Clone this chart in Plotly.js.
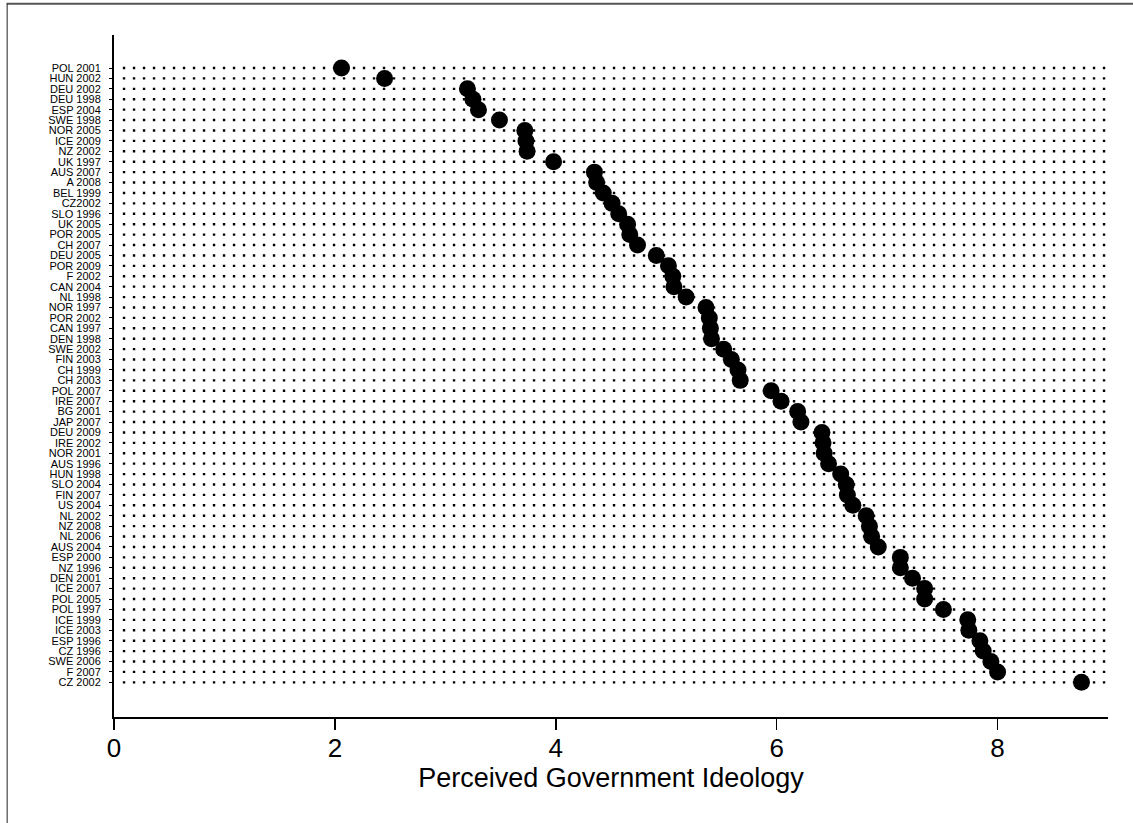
<!DOCTYPE html>
<html>
<head>
<meta charset="utf-8">
<script src="https://cdn.plot.ly/plotly-3.0.1.min.js"></script>
<style>
  html, body { margin: 0; padding: 0; background: #fff; }
  #chart { width: 1133px; height: 823px; }
</style>
</head>
<body>
<div id="chart"></div>
<script>
// Country-election labels (top to bottom)
const labels = [
  "POL 2001", "HUN 2002", "DEU 2002", "DEU 1998", "ESP 2004", "SWE 1998",
  "NOR 2005", "ICE 2009", "NZ 2002", "UK 1997", "AUS 2007", "A 2008",
  "BEL 1999", "CZ2002", "SLO 1996", "UK 2005", "POR 2005", "CH 2007",
  "DEU 2005", "POR 2009", "F 2002", "CAN 2004", "NL 1998", "NOR 1997",
  "POR 2002", "CAN 1997", "DEN 1998", "SWE 2002", "FIN 2003", "CH 1999",
  "CH 2003", "POL 2007", "IRE 2007", "BG 2001", "JAP 2007", "DEU 2009",
  "IRE 2002", "NOR 2001", "AUS 1996", "HUN 1998", "SLO 2004", "FIN 2007",
  "US 2004", "NL 2002", "NZ 2008", "NL 2006", "AUS 2004", "ESP 2000",
  "NZ 1996", "DEN 2001", "ICE 2007", "POL 2005", "POL 1997", "ICE 1999",
  "ICE 2003", "ESP 1996", "CZ 1996", "SWE 2006", "F 2007", "CZ 2002"
];

// Perceived government ideology
const ideology = [
  2.06, 2.45, 3.20, 3.25, 3.30, 3.49, 3.72, 3.73, 3.74, 3.98, 4.35, 4.37,
  4.43, 4.51, 4.57, 4.65, 4.67, 4.74, 4.91, 5.02, 5.06, 5.07, 5.18, 5.36,
  5.39, 5.40, 5.41, 5.52, 5.59, 5.65, 5.67, 5.95, 6.04, 6.19, 6.22, 6.41,
  6.42, 6.43, 6.47, 6.58, 6.63, 6.64, 6.69, 6.81, 6.84, 6.86, 6.92, 7.12,
  7.12, 7.23, 7.34, 7.34, 7.51, 7.73, 7.74, 7.84, 7.87, 7.94, 8.00, 8.76
];

const xTicks = [0, 2, 4, 6, 8];

const idx = labels.map((_, i) => i);

// dotted guide rows, one per category
const shapes = idx.map(i => ({
  type: "line", xref: "x", yref: "y",
  x0: 0.08, x1: 9.05, y0: i, y1: i,
  line: { color: "#000", width: 2.4, dash: "2.4px,7.6px" },
  layer: "below"
}));

// figure frame (top edge and left edge)
shapes.push({
  type: "line", xref: "paper", yref: "paper",
  x0: -0.108, x1: 1.03, y0: 1.046, y1: 1.046,
  line: { color: "#555", width: 2 }
});
shapes.push({
  type: "line", xref: "paper", yref: "paper",
  x0: -0.1075, x1: -0.1075, y0: 1.046, y1: -0.16,
  line: { color: "#222", width: 1 }
});

const trace = {
  type: "scatter",
  mode: "markers",
  x: ideology,
  y: idx,
  marker: { color: "#000", size: 17, line: { width: 0 } },
  cliponaxis: false,
  hoverinfo: "x+text",
  text: labels
};

const layout = {
  width: 1133,
  height: 823,
  margin: { l: 114, r: 25, t: 35, b: 106 },
  paper_bgcolor: "#fff",
  plot_bgcolor: "#fff",
  showlegend: false,
  font: { family: "Liberation Sans, Arial, sans-serif", color: "#000" },
  xaxis: {
    range: [0, 9],
    tickvals: xTicks,
    ticktext: xTicks.map(String),
    showgrid: false,
    zeroline: false,
    showline: true,
    linecolor: "#000",
    linewidth: 2,
    ticks: "outside",
    ticklen: 11,
    tickwidth: 1.5,
    tickcolor: "#000",
    ticklabelstandoff: -4,
    tickfont: { size: 26, family: "Liberation Sans, Arial, sans-serif" },
    title: {
      text: "Perceived Government Ideology",
      font: { size: 27, family: "Liberation Sans, Arial, sans-serif" },
      standoff: 2
    }
  },
  yaxis: {
    range: [62.33, -3.17],
    tickvals: idx,
    ticktext: labels,
    showgrid: false,
    zeroline: false,
    showline: true,
    linecolor: "#000",
    linewidth: 2,
    ticks: "outside",
    ticklen: 3,
    tickwidth: 1,
    tickcolor: "#000",
    ticklabelstandoff: 6,
    tickfont: { size: 11, family: "Liberation Sans, Arial, sans-serif" }
  },
  shapes: shapes
};

Plotly.newPlot("chart", [trace], layout, { displayModeBar: false, staticPlot: true });
</script>
</body>
</html>
